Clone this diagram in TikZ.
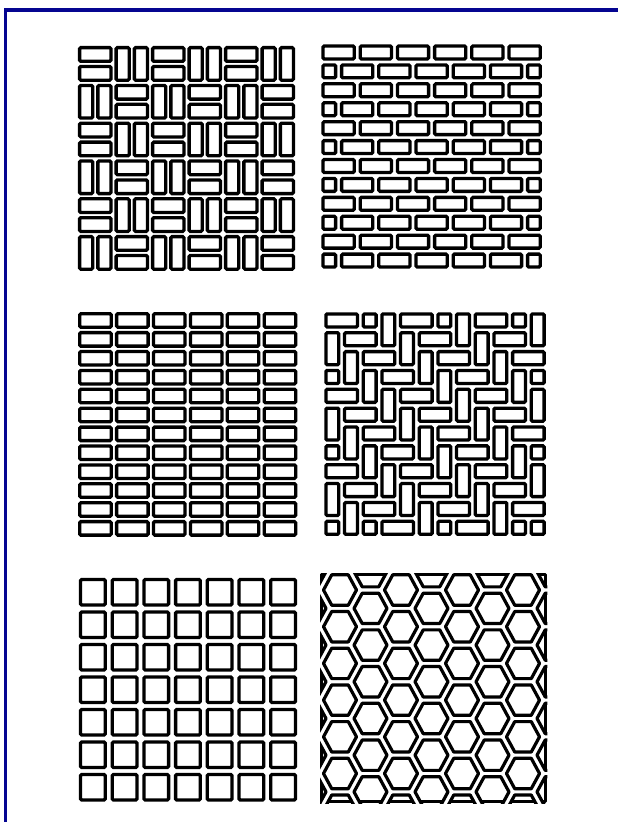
\documentclass[tikz,border=0pt]{standalone}
\definecolor{frameblue}{RGB}{5,5,145}
\tikzset{
  brk/.style={draw=black, line width=3.3pt, rounded corners=1.2pt},
  hexl/.style={draw=black, line width=3.2pt, line join=round},
  frame/.style={draw=frameblue, line width=3.2pt}
}
\newcommand\cellbox[5]{\draw[brk] ({#1+#5},{#2+#5}) rectangle ({#3-#5},{#4-#5});}
\newcommand\hbclip[4]{%
  \pgfmathsetmacro\xa{max(#1,0)}\pgfmathsetmacro\xb{min(#3,12)}%
  \pgfmathsetmacro\ya{max(#2,0)}\pgfmathsetmacro\yb{min(#4,12)}%
  \pgfmathtruncatemacro\ok{and(\xb>\xa,\yb>\ya)}%
  \ifnum\ok=1 \cellbox{323+\xa*18.67}{311+\ya*18.85}{323+\xb*18.67}{311+\yb*18.85}{2.9}\fi}
\def\ha{16.5}
\def\hb{15.2}
\begin{document}
\begin{tikzpicture}[x=1pt,y=-1pt]
\fill[white] (0,0) rectangle (618,822);
\useasboundingbox (0,0) rectangle (618,822);
\draw[frame] (5.5,822) -- (5.5,10) -- (618,10);
% panel 1: basket weave
\foreach \i in {0,...,5}{\foreach \j in {0,...,5}{
  \pgfmathtruncatemacro\pty{mod(\i+\j,2)}
  \pgfmathsetmacro\xa{77+\i*36.5}\pgfmathsetmacro\ya{45+\j*37.8}
  \ifnum\pty=0
    \cellbox{\xa}{\ya}{\xa+36.5}{\ya+18.9}{2.6}
    \cellbox{\xa}{\ya+18.9}{\xa+36.5}{\ya+37.8}{2.6}
  \else
    \cellbox{\xa}{\ya}{\xa+18.25}{\ya+37.8}{2.6}
    \cellbox{\xa+18.25}{\ya}{\xa+36.5}{\ya+37.8}{2.6}
  \fi}}
% panel 2: running bond
\foreach \r in {0,...,11}{
  \pgfmathsetmacro\ya{43+\r*18.92}
  \pgfmathtruncatemacro\odd{mod(\r,2)}
  \foreach \k in {0,...,6}{
    \pgfmathsetmacro\xa{max(320,320+(\k-0.5*\odd)*37.2)}
    \pgfmathsetmacro\xb{min(543.2,320+(\k+1-0.5*\odd)*37.2)}
    \pgfmathtruncatemacro\ok{\xb>\xa+1}
    \ifnum\ok=1 \cellbox{\xa}{\ya}{\xb}{\ya+18.92}{3}\fi}}
% panel 3: stack bond
\foreach \i in {0,...,5}{\foreach \r in {0,...,11}{
  \cellbox{77+\i*36.9}{311+\r*18.9}{77+\i*36.9+36.9}{311+\r*18.9+18.9}{2.7}}}
% panel 4: herringbone
\foreach \r in {-1,...,11}{\foreach \k in {-3,...,2}{
  \pgfmathtruncatemacro\cc{\r+4*\k}
  \hbclip{\cc}{\r}{\cc+2}{\r+1}
  \hbclip{\cc+3}{\r}{\cc+4}{\r+2}}}
% panel 5: square tiles
\foreach \i in {0,...,6}{\foreach \j in {0,...,6}{
  \cellbox{77+\i*31.7}{576+\j*32.5}{77+\i*31.7+31.7}{576+\j*32.5+32.5}{3.5}}}
% panel 6: hexagons
\begin{scope}
  \clip (320,573) rectangle (547.3,803.3);
  \foreach \cc in {-1,...,7}{
    \pgfmathsetmacro\cx{340+\cc*30.5}
    \pgfmathsetmacro\cyo{mod(\cc+2,2)==0 ? 590 : 571.65}
    \foreach \i in {-1,...,7}{
      \pgfmathsetmacro\cy{\cyo+\i*36.7}
      \draw[hexl] (\cx,\cy) +(-\ha,0) -- +(-\ha/2,-\hb) -- +(\ha/2,-\hb) -- +(\ha,0) -- +(\ha/2,\hb) -- +(-\ha/2,\hb) -- cycle;
      \begin{scope}
        \clip (\cx,\cy) +(-\ha,0) -- +(-\ha/2,-\hb) -- +(\ha/2,-\hb) -- +(\ha,0) -- +(\ha/2,\hb) -- +(-\ha/2,\hb) -- cycle;
        \draw[hexl] (321.6,574.6) rectangle (545.7,801.7);
      \end{scope}
    }}
\end{scope}
\end{tikzpicture}
\end{document}
